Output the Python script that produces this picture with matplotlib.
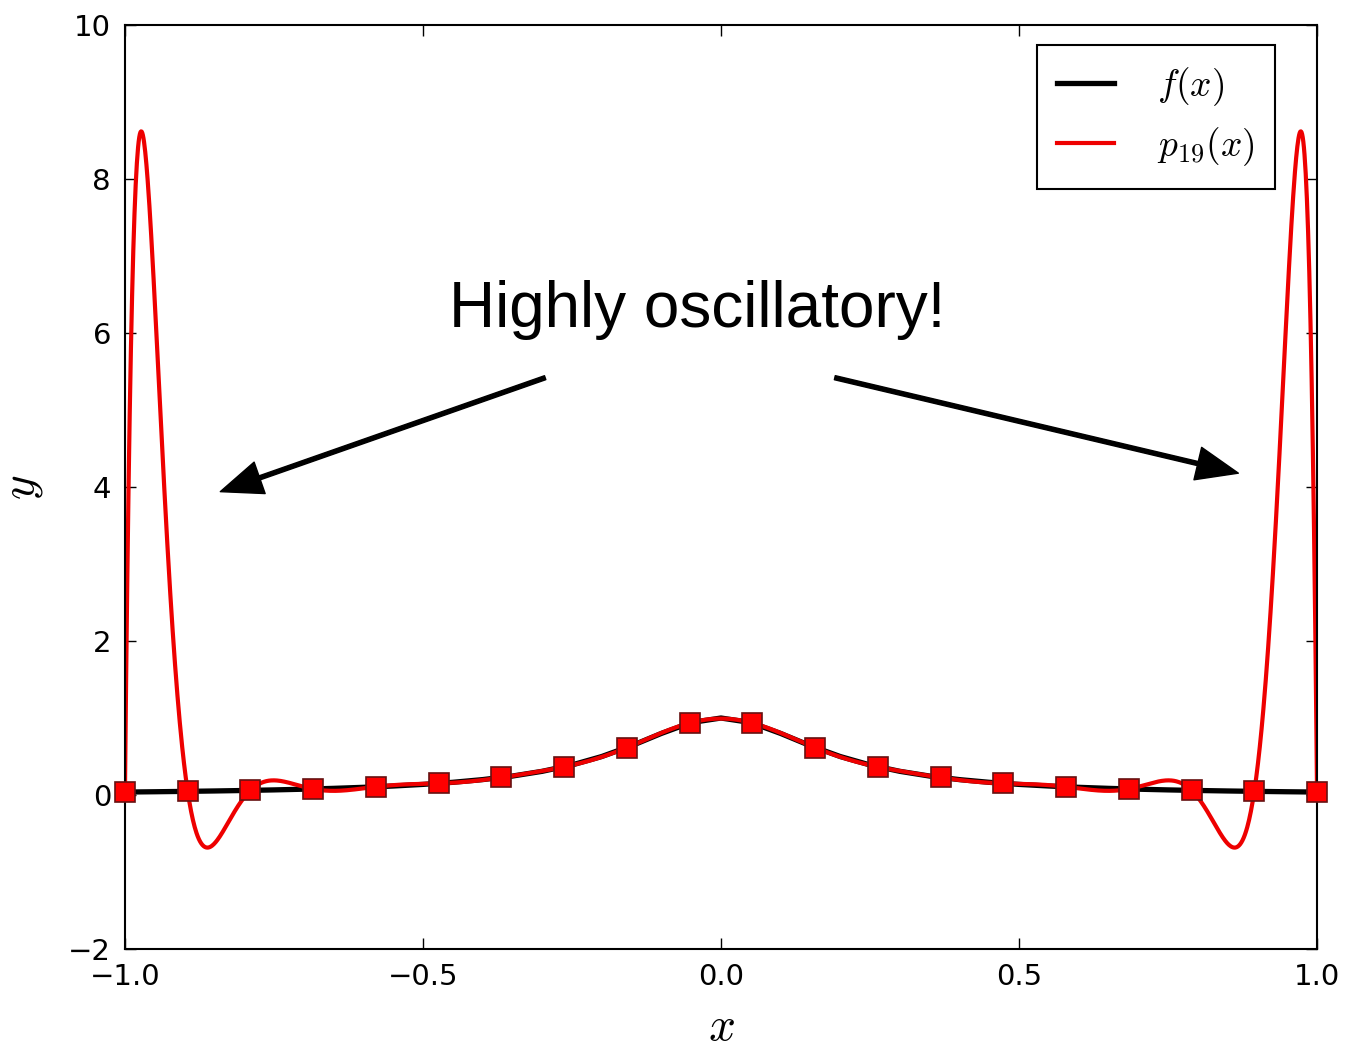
# Runge phenomenon: equispaced interpolation of f(x) = 1/(1+25x^2)
import numpy as np
import matplotlib
matplotlib.use("Agg")
import matplotlib.pyplot as plt

plt.rcParams['mathtext.fontset'] = 'cm'
plt.rcParams['font.family'] = 'DejaVu Sans'

# 20 equispaced nodes and f values at them
x_nodes = [-1.0, -17/19, -15/19, -13/19, -11/19, -9/19, -7/19, -5/19, -3/19, -1/19,
           1/19, 3/19, 5/19, 7/19, 9/19, 11/19, 13/19, 15/19, 17/19, 1.0]
y_nodes = [0.0384615, 0.0475877, 0.0603074, 0.0787178, 0.1066155, 0.1512992,
           0.2276166, 0.3661258, 0.6160410, 0.9352332,
           0.9352332, 0.6160410, 0.3661258, 0.2276166, 0.1512992,
           0.1066155, 0.0787178, 0.0603074, 0.0475877, 0.0384615]

# f(x) sampled every 0.05
x_f = [-1.0, -0.95, -0.9, -0.85, -0.8, -0.75, -0.7, -0.65, -0.6, -0.55, -0.5,
       -0.45, -0.4, -0.35, -0.3, -0.25, -0.2, -0.15, -0.1, -0.05, 0.0,
       0.05, 0.1, 0.15, 0.2, 0.25, 0.3, 0.35, 0.4, 0.45, 0.5,
       0.55, 0.6, 0.65, 0.7, 0.75, 0.8, 0.85, 0.9, 0.95, 1.0]
y_f = [0.0385, 0.0424, 0.0471, 0.0525, 0.0588, 0.0664, 0.0755, 0.0865, 0.1, 0.1168, 0.1379,
       0.1649, 0.2, 0.2462, 0.3077, 0.3902, 0.5, 0.64, 0.8, 0.9412, 1.0,
       0.9412, 0.8, 0.64, 0.5, 0.3902, 0.3077, 0.2462, 0.2, 0.1649, 0.1379,
       0.1168, 0.1, 0.0865, 0.0755, 0.0664, 0.0588, 0.0525, 0.0471, 0.0424, 0.0385]

# degree-19 interpolating polynomial through the nodes
p19 = np.polynomial.Chebyshev.fit(x_nodes, y_nodes, len(x_nodes) - 1)
xx = np.linspace(-1, 1, 2000)

fig = plt.figure(figsize=(13.45, 10.52), dpi=100)
ax = fig.add_axes([0.0929, 0.0979, 0.8863, 0.8783])

ax.plot(x_f, y_f, color='black', lw=3.8, label=r'$f(x)$')
ax.plot(xx, p19(xx), color='#ee0000', lw=3, label=r'$p_{19}(x)$')
ax.plot(x_nodes, y_nodes, 's', color='#ff0000', markersize=15,
        markeredgecolor='#661111', markeredgewidth=1.2, zorder=5, clip_on=False)

ax.text(-0.04, 6.3, 'Highly oscillatory!', fontsize=46, family='Liberation Sans',
        ha='center', va='center')
arrow = dict(facecolor='black', edgecolor='black', width=3, headwidth=24,
             headlength=30, shrink=0)
ax.annotate('', xy=(-0.84, 3.94), xytext=(-0.295, 5.42), arrowprops=arrow)
ax.annotate('', xy=(0.868, 4.18), xytext=(0.191, 5.42), arrowprops=arrow)

ax.set_xlim(-1, 1)
ax.set_ylim(-2, 10)
ax.set_xticks([-1.0, -0.5, 0.0, 0.5, 1.0])
ax.set_yticks([-2, 0, 2, 4, 6, 8, 10])
ax.tick_params(direction='in', top=True, right=True, length=8, width=1,
               labelsize=21, pad=10)
for s in ax.spines.values():
    s.set_linewidth(1.5)

ax.set_xlabel(r'$x$', fontsize=34, labelpad=10)
ax.set_ylabel(r'$y$', fontsize=34, labelpad=17)

leg = ax.legend(loc='upper right', bbox_to_anchor=(0.9648, 0.9784), borderaxespad=0,
                fontsize=27, fancybox=False, framealpha=1,
                borderpad=0.55, labelspacing=0.45, handlelength=1.5, handletextpad=1.15)
leg.get_frame().set_edgecolor('black')
leg.get_frame().set_linewidth(1.5)

plt.savefig('out.png', dpi=100)
